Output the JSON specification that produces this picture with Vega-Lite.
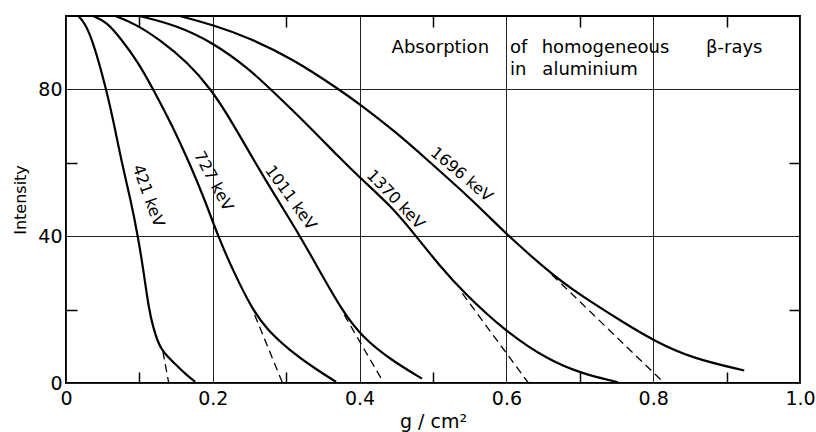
{
  "$schema": "https://vega.github.io/schema/vega-lite/v6.json",
  "width": 734,
  "height": 367,
  "autosize": {"type": "none"},
  "padding": {"left": 66, "top": 16, "right": 16, "bottom": 49},
  "background": "white",
  "config": {
    "view": {"stroke": "black", "strokeWidth": 2},
    "font": "DejaVu Sans",
    "text": {"font": "DejaVu Sans", "color": "black"}
  },
  "datasets": {
    "curves": [
      {"energy": "421", "x": 0.017, "y": 100}, {"energy": "421", "x": 0.026, "y": 98}, {"energy": "421", "x": 0.037, "y": 93}, {"energy": "421", "x": 0.055, "y": 80}, {"energy": "421", "x": 0.066, "y": 70}, {"energy": "421", "x": 0.076, "y": 60}, {"energy": "421", "x": 0.088, "y": 50}, {"energy": "421", "x": 0.098, "y": 40}, {"energy": "421", "x": 0.106, "y": 30}, {"energy": "421", "x": 0.113, "y": 20}, {"energy": "421", "x": 0.119, "y": 15}, {"energy": "421", "x": 0.125, "y": 11.3}, {"energy": "421", "x": 0.130, "y": 9.3}, {"energy": "421", "x": 0.137, "y": 7.5}, {"energy": "421", "x": 0.150, "y": 4.9}, {"energy": "421", "x": 0.164, "y": 2.2}, {"energy": "421", "x": 0.176, "y": 0.3},
      {"energy": "727", "x": 0.037, "y": 100}, {"energy": "727", "x": 0.055, "y": 98.5}, {"energy": "727", "x": 0.076, "y": 93.5}, {"energy": "727", "x": 0.098, "y": 87.5}, {"energy": "727", "x": 0.119, "y": 80}, {"energy": "727", "x": 0.145, "y": 70}, {"energy": "727", "x": 0.168, "y": 60}, {"energy": "727", "x": 0.189, "y": 50}, {"energy": "727", "x": 0.207, "y": 40}, {"energy": "727", "x": 0.229, "y": 30}, {"energy": "727", "x": 0.254, "y": 20}, {"energy": "727", "x": 0.274, "y": 14.5}, {"energy": "727", "x": 0.304, "y": 9}, {"energy": "727", "x": 0.340, "y": 3.8}, {"energy": "727", "x": 0.368, "y": 0.3},
      {"energy": "1011", "x": 0.067, "y": 100}, {"energy": "1011", "x": 0.095, "y": 97.8}, {"energy": "1011", "x": 0.128, "y": 93.5}, {"energy": "1011", "x": 0.165, "y": 87.5}, {"energy": "1011", "x": 0.198, "y": 80}, {"energy": "1011", "x": 0.225, "y": 71.5}, {"energy": "1011", "x": 0.255, "y": 61}, {"energy": "1011", "x": 0.288, "y": 50}, {"energy": "1011", "x": 0.319, "y": 40}, {"energy": "1011", "x": 0.347, "y": 30}, {"energy": "1011", "x": 0.377, "y": 19.5}, {"energy": "1011", "x": 0.404, "y": 12.4}, {"energy": "1011", "x": 0.444, "y": 6.1}, {"energy": "1011", "x": 0.485, "y": 1.2},
      {"energy": "1370", "x": 0.100, "y": 100}, {"energy": "1370", "x": 0.150, "y": 97.5}, {"energy": "1370", "x": 0.200, "y": 92.8}, {"energy": "1370", "x": 0.250, "y": 85.5}, {"energy": "1370", "x": 0.279, "y": 80}, {"energy": "1370", "x": 0.330, "y": 70.2}, {"energy": "1370", "x": 0.372, "y": 61.5}, {"energy": "1370", "x": 0.400, "y": 56}, {"energy": "1370", "x": 0.444, "y": 48}, {"energy": "1370", "x": 0.477, "y": 40}, {"energy": "1370", "x": 0.508, "y": 32.2}, {"energy": "1370", "x": 0.540, "y": 25}, {"energy": "1370", "x": 0.600, "y": 13.8}, {"energy": "1370", "x": 0.657, "y": 6.3}, {"energy": "1370", "x": 0.702, "y": 2.6}, {"energy": "1370", "x": 0.752, "y": 0.2},
      {"energy": "1696", "x": 0.155, "y": 100}, {"energy": "1696", "x": 0.200, "y": 97.6}, {"energy": "1696", "x": 0.250, "y": 94}, {"energy": "1696", "x": 0.309, "y": 88.3}, {"energy": "1696", "x": 0.372, "y": 80}, {"energy": "1696", "x": 0.400, "y": 76}, {"energy": "1696", "x": 0.450, "y": 68.3}, {"energy": "1696", "x": 0.494, "y": 60.5}, {"energy": "1696", "x": 0.540, "y": 52.3}, {"energy": "1696", "x": 0.576, "y": 45.4}, {"energy": "1696", "x": 0.603, "y": 40}, {"energy": "1696", "x": 0.669, "y": 28.3}, {"energy": "1696", "x": 0.716, "y": 22}, {"energy": "1696", "x": 0.761, "y": 16.3}, {"energy": "1696", "x": 0.803, "y": 11.3}, {"energy": "1696", "x": 0.852, "y": 6.8}, {"energy": "1696", "x": 0.924, "y": 3.4}
    ],
    "tangents": [
      {"energy": "421", "x": 0.132, "y": 8.6}, {"energy": "421", "x": 0.140, "y": 0},
      {"energy": "727", "x": 0.257, "y": 18.6}, {"energy": "727", "x": 0.295, "y": 0},
      {"energy": "1011", "x": 0.379, "y": 18.6}, {"energy": "1011", "x": 0.433, "y": 0},
      {"energy": "1370", "x": 0.540, "y": 24.4}, {"energy": "1370", "x": 0.630, "y": 0},
      {"energy": "1696", "x": 0.662, "y": 29.5}, {"energy": "1696", "x": 0.815, "y": 0}
    ],
    "labels": [
      {"label": "421 keV", "x": 0.112, "y": 51},
      {"label": "727 keV", "x": 0.201, "y": 55},
      {"label": "1011 keV", "x": 0.306, "y": 50.5},
      {"label": "1370 keV", "x": 0.449, "y": 50},
      {"label": "1696 keV", "x": 0.539, "y": 56.8}
    ],
    "heading": [
      {"word": "Absorption", "x": 0.4436, "y": 91.3},
      {"word": "of", "x": 0.605, "y": 91.3},
      {"word": "homogeneous", "x": 0.648, "y": 91.3},
      {"word": "β-rays", "x": 0.872, "y": 91.3},
      {"word": "in", "x": 0.605, "y": 85.2},
      {"word": "aluminium", "x": 0.649, "y": 85.2}
    ]
  },
  "resolve": {"axis": {"x": "independent", "y": "independent"}},
  "layer": [
    {
      "data": {"name": "curves"},
      "mark": {"type": "line", "color": "black", "strokeWidth": 2.2, "interpolate": "basis"},
      "encoding": {
        "x": {"field": "x", "type": "quantitative", "scale": {"domain": [0, 1], "nice": false, "zero": false},
          "axis": {"values": [0, 0.2, 0.4, 0.6, 0.8, 1], "grid": true, "gridColor": "#222", "gridWidth": 1, "gridOpacity": 1,
            "ticks": false, "domain": false, "labelExpr": "datum.value == 0 ? '0' : format(datum.value, '.1f')",
            "labelFontSize": 19, "labelColor": "black", "labelPadding": 6, "labelFlush": false, "labelOverlap": false,
            "title": "g / cm²", "titleFontSize": 19, "titleFontWeight": "normal", "titleColor": "black",
            "titleY": 38, "titleBaseline": "middle"}},
        "y": {"field": "y", "type": "quantitative", "scale": {"domain": [0, 100], "nice": false},
          "axis": {"values": [0, 40, 80], "grid": true, "gridColor": "#222", "gridWidth": 1, "gridOpacity": 1,
            "ticks": false, "domain": false, "labelFontSize": 19, "labelColor": "black", "labelPadding": 4,
            "labelFlush": false, "labelOverlap": false,
            "title": "Intensity", "titleFontSize": 16, "titleFontWeight": "normal", "titleColor": "black",
            "titleAngle": -90, "titleX": -46, "titleY": 183.5, "titleBaseline": "middle", "titleAlign": "center"}},
        "detail": {"field": "energy"}
      }
    },
    {
      "data": {"name": "tangents"},
      "mark": {"type": "line", "color": "black", "strokeWidth": 1.3, "strokeDash": [8, 5]},
      "encoding": {
        "x": {"field": "x", "type": "quantitative", "scale": {"domain": [0, 1], "nice": false, "zero": false},
          "axis": {"orient": "bottom", "values": [0.1, 0.3, 0.5, 0.7, 0.9], "grid": false, "labels": false, "domain": false,
            "ticks": true, "tickSize": -11, "tickColor": "black", "tickWidth": 1.5, "title": null}},
        "y": {"field": "y", "type": "quantitative", "scale": {"domain": [0, 100], "nice": false},
          "axis": {"orient": "left", "values": [20, 60], "grid": false, "labels": false, "domain": false,
            "ticks": true, "tickSize": -11, "tickColor": "black", "tickWidth": 1.5, "title": null}},
        "detail": {"field": "energy"}
      }
    },
    {
      "data": {"name": "heading"},
      "mark": {"type": "text", "align": "left", "baseline": "middle", "fontSize": 18, "color": "black"},
      "encoding": {
        "x": {"field": "x", "type": "quantitative", "scale": {"domain": [0, 1], "nice": false, "zero": false},
          "axis": {"orient": "top", "values": [0.1, 0.3, 0.5, 0.7, 0.9], "grid": false, "labels": false, "domain": false,
            "ticks": true, "tickSize": -11, "tickColor": "black", "tickWidth": 1.5, "title": null}},
        "y": {"field": "y", "type": "quantitative", "scale": {"domain": [0, 100], "nice": false},
          "axis": {"orient": "right", "values": [20, 60], "grid": false, "labels": false, "domain": false,
            "ticks": true, "tickSize": -11, "tickColor": "black", "tickWidth": 1.5, "title": null}},
        "text": {"field": "word"}
      }
    },
    {
      "data": {"name": "labels"},
      "transform": [{"filter": "datum.label == '421 keV'"}],
      "mark": {"type": "text", "align": "center", "baseline": "middle", "fontSize": 16, "angle": 70, "color": "black"},
      "encoding": {
        "x": {"field": "x", "type": "quantitative", "scale": {"domain": [0, 1], "nice": false, "zero": false}, "axis": null},
        "y": {"field": "y", "type": "quantitative", "scale": {"domain": [0, 100], "nice": false}, "axis": null},
        "text": {"field": "label"}
      }
    },
    {
      "data": {"name": "labels"},
      "transform": [{"filter": "datum.label == '727 keV'"}],
      "mark": {"type": "text", "align": "center", "baseline": "middle", "fontSize": 16, "angle": 62, "color": "black"},
      "encoding": {
        "x": {"field": "x", "type": "quantitative", "scale": {"domain": [0, 1], "nice": false, "zero": false}, "axis": null},
        "y": {"field": "y", "type": "quantitative", "scale": {"domain": [0, 100], "nice": false}, "axis": null},
        "text": {"field": "label"}
      }
    },
    {
      "data": {"name": "labels"},
      "transform": [{"filter": "datum.label == '1011 keV'"}],
      "mark": {"type": "text", "align": "center", "baseline": "middle", "fontSize": 16, "angle": 54, "color": "black"},
      "encoding": {
        "x": {"field": "x", "type": "quantitative", "scale": {"domain": [0, 1], "nice": false, "zero": false}, "axis": null},
        "y": {"field": "y", "type": "quantitative", "scale": {"domain": [0, 100], "nice": false}, "axis": null},
        "text": {"field": "label"}
      }
    },
    {
      "data": {"name": "labels"},
      "transform": [{"filter": "datum.label == '1370 keV'"}],
      "mark": {"type": "text", "align": "center", "baseline": "middle", "fontSize": 16, "angle": 46, "color": "black"},
      "encoding": {
        "x": {"field": "x", "type": "quantitative", "scale": {"domain": [0, 1], "nice": false, "zero": false}, "axis": null},
        "y": {"field": "y", "type": "quantitative", "scale": {"domain": [0, 100], "nice": false}, "axis": null},
        "text": {"field": "label"}
      }
    },
    {
      "data": {"name": "labels"},
      "transform": [{"filter": "datum.label == '1696 keV'"}],
      "mark": {"type": "text", "align": "center", "baseline": "middle", "fontSize": 16, "angle": 40, "color": "black"},
      "encoding": {
        "x": {"field": "x", "type": "quantitative", "scale": {"domain": [0, 1], "nice": false, "zero": false}, "axis": null},
        "y": {"field": "y", "type": "quantitative", "scale": {"domain": [0, 100], "nice": false}, "axis": null},
        "text": {"field": "label"}
      }
    }
  ]
}
